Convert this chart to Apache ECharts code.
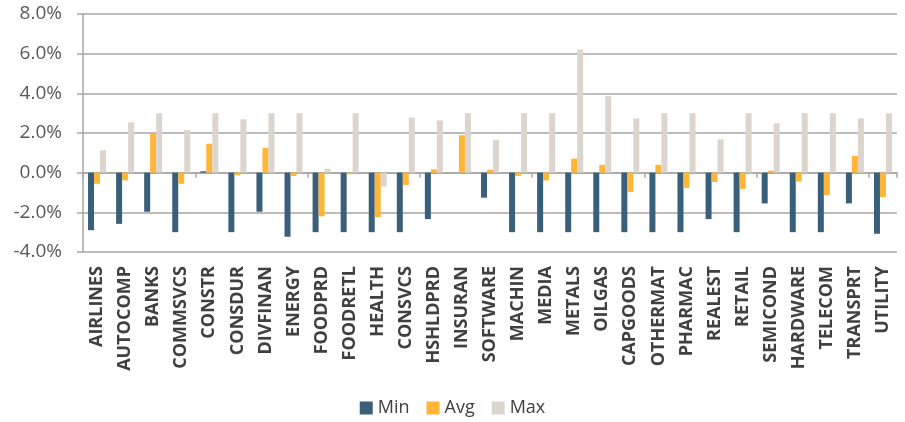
<!DOCTYPE html>
<html>
<head>
<meta charset="utf-8">
<script src="https://cdn.jsdelivr.net/npm/echarts@6/dist/echarts.min.js"></script>
<style>
  html, body { margin: 0; padding: 0; background: #ffffff; }
  #chart { width: 905px; height: 422px; }
</style>
</head>
<body>
<div id="chart"></div>
<script>
// Sector categories along the x axis
const categories = ['AIRLINES','AUTOCOMP','BANKS','COMMSVCS','CONSTR','CONSDUR','DIVFINAN','ENERGY','FOODPRD','FOODRETL',
  'HEALTH','CONSVCS','HSHLDPRD','INSURAN','SOFTWARE','MACHIN','MEDIA','METALS','OILGAS','CAPGOODS',
  'OTHERMAT','PHARMAC','REALEST','RETAIL','SEMICOND','HARDWARE','TELECOM','TRANSPRT','UTILITY'];

// Values in percent
const minValues = [-2.9,-2.58,-1.97,-3.0,0.07,-3.0,-1.97,-3.23,-3.0,-3.0,
  -3.0,-3.0,-2.34,0,-1.26,-3.0,-3.0,-3.0,-3.0,-3.0,
  -3.0,-3.0,-2.34,-3.0,-1.55,-3.0,-3.0,-1.55,-3.08];
const avgValues = [-0.56,-0.39,1.97,-0.56,1.46,-0.13,1.25,-0.17,-2.2,-0.08,
  -2.24,-0.62,0.17,1.89,0.15,-0.17,-0.39,0.71,0.39,-0.98,
  0.4,-0.77,-0.47,-0.82,0.1,-0.45,-1.14,0.84,-1.23];
const maxValues = [1.13,2.54,3.0,2.15,3.0,2.69,3.0,3.0,0.2,3.0,
  -0.69,2.78,2.63,3.0,1.65,3.0,3.0,6.21,3.86,2.74,
  3.0,3.0,1.68,3.0,2.49,3.0,3.0,2.74,3.0];

// Y axis range and step (percent)
const yMin = -4, yMax = 8, yStep = 2;

const chart = echarts.init(document.getElementById('chart'), null, { renderer: 'canvas' });

const seriesBase = { type: 'bar', barWidth: 6, barGap: '0%', xAxisIndex: 0 };
const gridGray = '#a6a6a6';

chart.setOption({
  animation: false,
  textStyle: { fontFamily: 'Open Sans' },
  legend: {
    bottom: 0,
    left: 'center',
    itemWidth: 13,
    itemHeight: 13,
    itemGap: 17,
    icon: 'rect',
    textStyle: { fontSize: 18, color: '#404040', fontFamily: 'Open Sans' },
    data: ['Min', 'Avg', 'Max']
  },
  grid: { left: 83, right: 8, top: 14, bottom: 170 },
  xAxis: [
    {
      // zero line with category ticks
      type: 'category',
      data: categories,
      axisLine: { onZero: true, lineStyle: { color: gridGray, width: 1.5 } },
      axisTick: { show: true, length: 5, lineStyle: { color: gridGray, width: 1.5 } },
      axisLabel: { show: false }
    },
    {
      // category names along the bottom edge
      type: 'category',
      data: categories,
      position: 'bottom',
      axisLine: { show: false, onZero: false },
      axisTick: { show: false },
      axisLabel: {
        rotate: 90,
        interval: 0,
        margin: 14,
        fontSize: 18,
        fontWeight: 'bold',
        color: '#404040',
        fontFamily: 'Open Sans'
      }
    }
  ],
  yAxis: {
    type: 'value',
    min: yMin,
    max: yMax,
    interval: yStep,
    axisLine: { show: true, lineStyle: { color: gridGray, width: 1.5 } },
    axisTick: { show: true, length: 6, lineStyle: { color: gridGray, width: 1.5 } },
    splitLine: { lineStyle: { color: gridGray, width: 1.5 } },
    axisLabel: {
      margin: 21,
      fontSize: 19,
      color: '#595959',
      fontFamily: 'Open Sans',
      formatter: v => v.toFixed(1) + '%'
    }
  },
  series: [
    Object.assign({ name: 'Min', data: minValues, itemStyle: { color: '#3a5f7a' } }, seriesBase),
    Object.assign({ name: 'Avg', data: avgValues, itemStyle: { color: '#ffb535' } }, seriesBase),
    Object.assign({ name: 'Max', data: maxValues, itemStyle: { color: '#dbd5cd' } }, seriesBase)
  ]
});
</script>
</body>
</html>
